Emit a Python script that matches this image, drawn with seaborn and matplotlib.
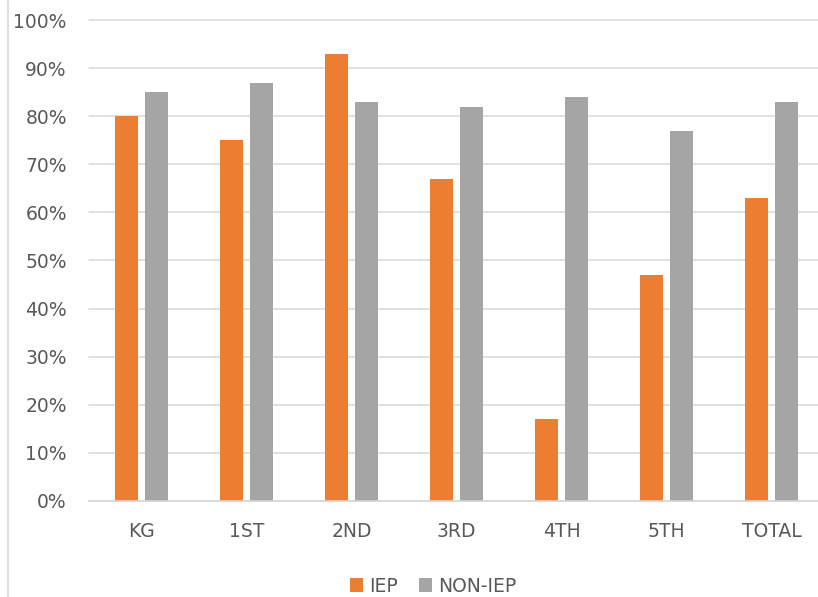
import matplotlib
matplotlib.use("Agg")
import matplotlib.pyplot as plt
from matplotlib.lines import Line2D
from matplotlib.patches import Patch
from matplotlib.ticker import PercentFormatter, MultipleLocator
import seaborn as sns
import pandas as pd

grades = ["KG", "1ST", "2ND", "3RD", "4TH", "5TH", "TOTAL"]
iep = [0.80, 0.75, 0.93, 0.67, 0.17, 0.47, 0.63]
non_iep = [0.85, 0.87, 0.83, 0.82, 0.84, 0.77, 0.83]
groups = ["IEP", "NON-IEP"]
colors = ["#ED7D31", "#A5A5A5"]

df = pd.DataFrame({
    "grade": grades * 2,
    "group": [groups[0]] * len(grades) + [groups[1]] * len(grades),
    "value": iep + non_iep,
})

sns.set_theme(style="white")
plt.rcParams["font.family"] = ["DejaVu Sans"]

fig = plt.figure(figsize=(8.18, 5.97), dpi=100)
ax = fig.add_axes([89 / 818, 96 / 597, 735 / 818, 481 / 597])

sns.barplot(data=df, x="grade", y="value", hue="group", order=grades,
            hue_order=groups, palette=colors, width=0.57, gap=0.23,
            linewidth=0, saturation=1, legend=False, ax=ax)

ax.set_ylim(0, 1)
ax.set_xlim(-0.5, len(grades) - 0.5)
ax.yaxis.set_major_locator(MultipleLocator(0.1))
ax.yaxis.set_major_formatter(PercentFormatter(1.0, decimals=0))
ax.grid(axis="y", color="#D9D9D9", linewidth=1.1)
for gl in ax.get_ygridlines():
    gl.set_clip_on(False)
ax.set_axisbelow(True)
for s in ["top", "right", "left"]:
    ax.spines[s].set_visible(False)
ax.spines["bottom"].set_color("#D9D9D9")
ax.spines["bottom"].set_linewidth(1.1)
ax.set_xlabel("")
ax.set_ylabel("")
ax.tick_params(axis="y", length=0, pad=16, labelsize=13.5, labelcolor="#595959")
ax.tick_params(axis="x", length=0, pad=15, labelsize=13.5, labelcolor="#595959")

handles = [Patch(facecolor=c, edgecolor="none") for c in colors]
fig.legend(handles, groups, loc="center", bbox_to_anchor=(433 / 818, 1 - 586 / 597),
           ncol=2, frameon=False, fontsize=13.5, labelcolor="#595959",
           handlelength=0.7, handleheight=0.7, handletextpad=0.35,
           columnspacing=1.1)

fig.add_artist(Line2D([7.5 / 818, 7.5 / 818], [0, 1], color="#D9D9D9",
                      linewidth=1.2, transform=fig.transFigure))

fig.savefig("out.png", dpi=100)
